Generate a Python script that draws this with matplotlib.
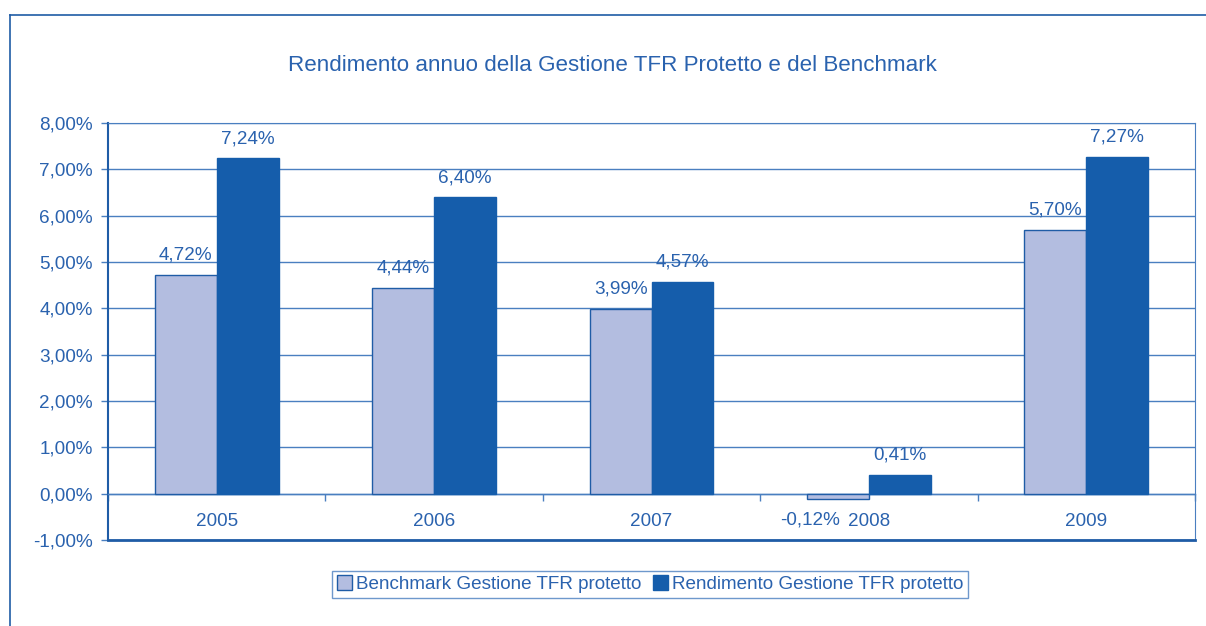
import matplotlib
matplotlib.use("Agg")
import matplotlib.pyplot as plt
from matplotlib.lines import Line2D
from matplotlib.ticker import FuncFormatter, FixedLocator
import numpy as np

plt.rcParams['font.family'] = ['Liberation Sans', 'DejaVu Sans']

years = ['2005', '2006', '2007', '2008', '2009']
benchmark = [4.72, 4.44, 3.99, -0.12, 5.70]
rendimento = [7.24, 6.40, 4.57, 0.41, 7.27]
series_names = ['Benchmark Gestione TFR protetto', 'Rendimento Gestione TFR protetto']
title = 'Rendimento annuo della Gestione TFR Protetto e del Benchmark'

TXT = '#2a62ae'
DARK = '#1f5ca6'
GRID = '#4a7fc0'
C_BENCH = '#b3bde0'
C_REND = '#155dab'
FS = 13.6

fig = plt.figure(figsize=(12.06, 6.26), dpi=100)
ax = fig.add_axes([0.0896, 0.1374, 0.9013, 0.6661])

# figure frame (left and top lines)
fig.add_artist(Line2D([0.0083, 0.0083], [0.0, 0.976], transform=fig.transFigure, color=DARK, lw=1.2))
fig.add_artist(Line2D([0.0083, 1.0], [0.976, 0.976], transform=fig.transFigure, color=DARK, lw=1.2))

x = np.arange(len(years))
w = 0.285
b1 = ax.bar(x - w / 2, benchmark, w, color=C_BENCH, edgecolor=DARK, linewidth=1.0,
            label=series_names[0], zorder=3)
b2 = ax.bar(x + w / 2, rendimento, w, color=C_REND, edgecolor=C_REND, linewidth=1.0,
            label=series_names[1], zorder=3)

def fmt(v):
    return f'{v:.2f}%'.replace('.', ',')

for xi, v in zip(x - w / 2, benchmark):
    if v >= 0:
        ax.annotate(fmt(v), (xi, v), xytext=(0, 8), textcoords='offset points',
                    ha='center', va='bottom', color=TXT, fontsize=FS)
    else:
        ax.annotate(fmt(v), (xi, 0), xytext=(-20, -13), textcoords='offset points',
                    ha='center', va='top', color=TXT, fontsize=FS)
for xi, v in zip(x + w / 2, rendimento):
    ax.annotate(fmt(v), (xi, max(v, 0)), xytext=(0, 8), textcoords='offset points',
                ha='center', va='bottom', color=TXT, fontsize=FS)

ax.set_xlim(-0.5, len(years) - 0.5)
ax.set_ylim(-1, 8)
ax.set_yticks(np.arange(-1, 9, 1))
ax.yaxis.set_major_formatter(FuncFormatter(lambda v, p: fmt(v)))
ax.yaxis.grid(True, color=GRID, lw=1.0, zorder=0)
ax.set_axisbelow(True)

ax.set_xticks(x)
ax.set_xticklabels(years)
ax.xaxis.set_minor_locator(FixedLocator(np.arange(-0.5, len(years), 1.0)))
ax.tick_params(axis='x', which='major', length=0, pad=14, labelsize=FS, labelcolor=TXT)
ax.tick_params(axis='x', which='minor', length=5, width=1.0, color=GRID, direction='out')
ax.tick_params(axis='y', length=5, width=1.0, color=GRID, labelsize=FS, labelcolor=TXT, pad=6)

ax.spines['bottom'].set_position(('data', 0))
ax.spines['bottom'].set_color(GRID)
ax.spines['bottom'].set_linewidth(1.0)
ax.spines['left'].set_color(DARK)
ax.spines['left'].set_linewidth(1.5)
ax.spines['top'].set_color(GRID)
ax.spines['right'].set_color(GRID)
ax.axhline(-1, color=DARK, lw=2.0, zorder=4, clip_on=False)

fig.text(0.508, 0.896, title, ha='center', va='center', color=TXT, fontsize=16.1)

leg = fig.legend(handles=[b1, b2], loc='center', bbox_to_anchor=(0.539, 0.0665), ncol=2,
                 frameon=True, fancybox=False, fontsize=FS, handlelength=0.8,
                 handleheight=0.8, handletextpad=0.2, columnspacing=0.6,
                 borderpad=0.25, borderaxespad=0)
leg.get_frame().set_edgecolor(GRID)
leg.get_frame().set_linewidth(1.0)
for t in leg.get_texts():
    t.set_color(TXT)

fig.savefig('out.png', dpi=100)
